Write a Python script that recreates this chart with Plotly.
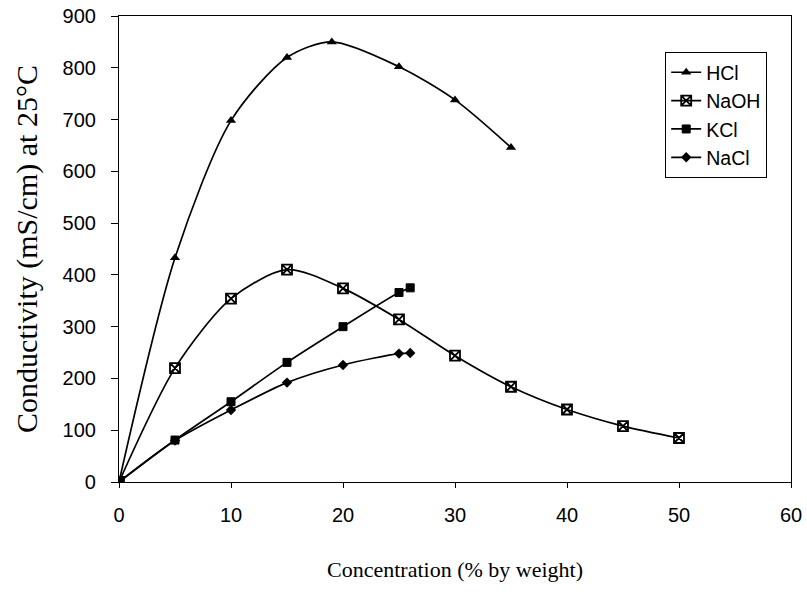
import plotly.graph_objects as go

# Data (concentration % by weight -> conductivity mS/cm at 25°C)
hcl_x = [0, 5, 10, 15, 19, 25, 30, 35]
hcl_y = [0, 433, 698, 820, 850, 802, 738, 646]

naoh_x = [0, 5, 10, 15, 20, 25, 30, 35, 40, 45, 50]
naoh_y = [0, 220, 354, 410, 374, 314, 244, 184, 140, 108, 85]

kcl_x = [0, 5, 10, 15, 20, 25, 26]
kcl_y = [0, 81, 155, 231, 300, 366, 375]

nacl_x = [0, 5, 10, 15, 20, 25, 26]
nacl_y = [0, 80, 139, 192, 226, 248, 249]

x_ticks = [0, 10, 20, 30, 40, 50, 60]
y_ticks = [0, 100, 200, 300, 400, 500, 600, 700, 800, 900]

fig = go.Figure()
common = dict(mode="lines+markers", line=dict(color="black", width=1.7, shape="spline", smoothing=0.8))
fig.add_trace(go.Scatter(x=hcl_x, y=hcl_y, name="HCl",
                         marker=dict(symbol="triangle-up", size=9, color="black"), **common))
fig.add_trace(go.Scatter(x=naoh_x, y=naoh_y, name="NaOH",
                         marker=dict(symbol="square-x-open", size=10, color="black",
                                     line=dict(width=1.8, color="black")), **common))
fig.add_trace(go.Scatter(x=kcl_x, y=kcl_y, name="KCl",
                         marker=dict(symbol=["square"] * (len(kcl_x) - 1) + ["square-dot"],
                                     size=8, color="black",
                                     line=dict(width=1, color="black")), **common))
fig.add_trace(go.Scatter(x=nacl_x, y=nacl_y, name="NaCl",
                         marker=dict(symbol="diamond", size=8, color="black"), **common))

axis_common = dict(showline=True, linecolor="black", linewidth=1.2, mirror=True,
                   showgrid=False, zeroline=False, ticks="outside", automargin=False,
                   tickcolor="black", tickfont=dict(family="Liberation Sans, Arial", size=20, color="black"))

fig.update_xaxes(range=[0, 60], tickvals=x_ticks, ticklen=5, ticklabelstandoff=10,
                 title=dict(text="Concentration (% by weight)", standoff=36,
                            font=dict(family="Liberation Serif, Times New Roman", size=22, color="black")),
                 **axis_common)
fig.update_yaxes(range=[0, 900], tickvals=y_ticks, ticklen=7, ticklabelstandoff=11,
                 title=dict(text="Conductivity (mS/cm) at 25°C", standoff=16,
                            font=dict(family="Liberation Serif, Times New Roman", size=30, color="black")),
                 **axis_common)

fig.update_layout(
    width=807, height=595,
    margin=dict(l=119, r=16, t=16, b=113),
    plot_bgcolor="white", paper_bgcolor="white",
    legend=dict(x=0.8125, y=0.923, xanchor="left", yanchor="top",
                bgcolor="white", bordercolor="black", borderwidth=1.2,
                font=dict(family="Liberation Sans, Arial", size=19.5, color="black"),
                itemwidth=30, tracegroupgap=0),
)

fig.write_html("out.html")
